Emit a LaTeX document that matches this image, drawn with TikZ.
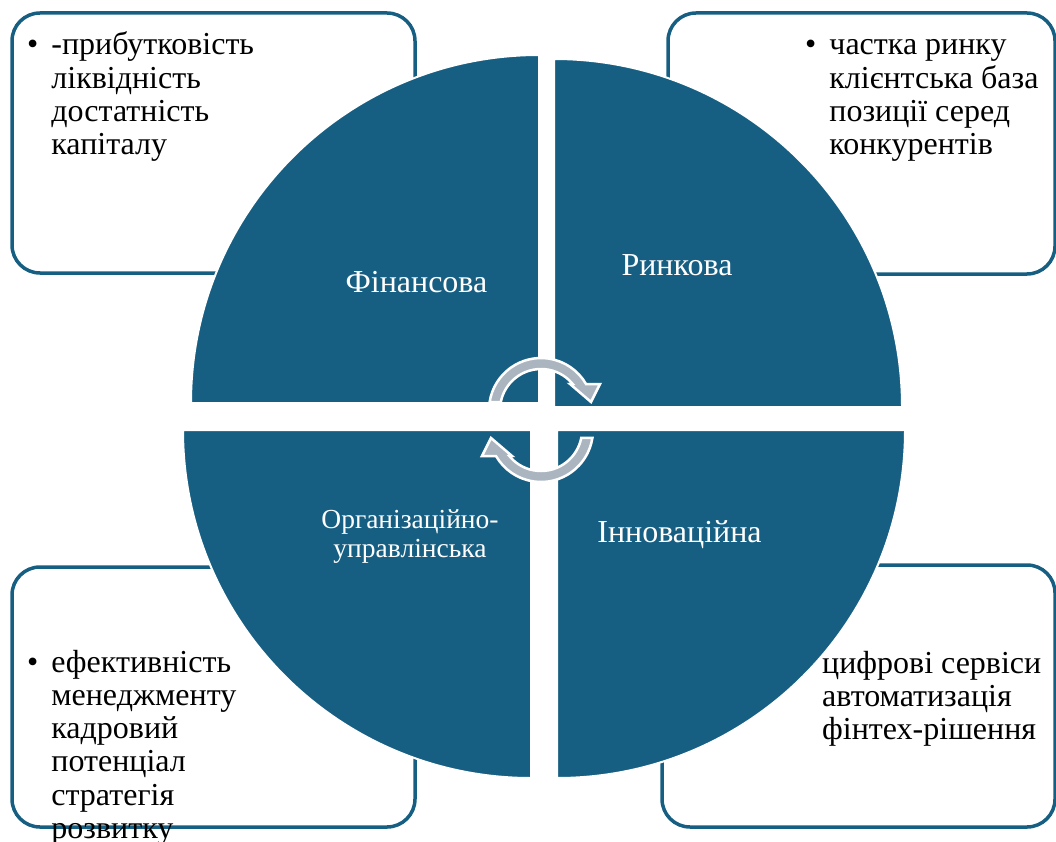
\documentclass[tikz,border=0pt]{standalone}
\usepackage{fontspec}
\setmainfont{Liberation Serif}
\definecolor{segblue}{RGB}{23,95,130}
\definecolor{cyclegray}{RGB}{171,181,191}

\begin{document}
\begin{tikzpicture}[x=1pt,y=1pt,
  seg/.style={fill=segblue,draw=white,line width=2pt},
  frame/.style={draw=segblue,line width=3.5pt,rounded corners=28pt},
  lab/.style={text=white,inner sep=0pt,font=\fontsize{32}{33}\selectfont},
  list/.style={inner sep=0pt,anchor=base west,font=\fontsize{32}{33.3}\selectfont},
  cyc/.style={fill=cyclegray,draw=white,line width=2.5pt,line join=miter}]
\useasboundingbox (0,0) rectangle (1056,-842);
\foreach \a/\b/\c/\d in {12/-13/415/-273, 668/-13/1055/-274, 12/-567/415/-827, 662/-565/1055/-827} { \draw[frame] (\a,\b) rectangle (\c,\d); }
\foreach \x/\y/\s in {539/-403/90, 554/-407/0, 531/-430/180, 557/-430/270} { \filldraw[seg] (\x,\y) -- ++(\s:348) arc[start angle=\s,delta angle=90,radius=348] -- cycle; }
\foreach \r in {0,180} { \filldraw[cyc,rotate around={\r:(541,-420)},shift={(541,-410)}] (171.2:52) arc[start angle=171.2,end angle=30,radius=52] -- (59,26) -- (50,8) -- (29,26) -- (39.4:41) arc[start angle=39.4,end angle=168.8,radius=41] -- cycle; }
\node[lab,anchor=base] (fin) at (416.5,-292) {Фінансова};
\node[lab,anchor=base] (rynk) at (677,-275) {Ринкова};
\node[lab,anchor=base] (inn) at (679.5,-542) {Інноваційна};
\node[lab,anchor=north,align=center,font=\fontsize{27.5}{29}\selectfont] (org) at (410,-509) {Організаційно-\\управлінська};
\node[list] (finlist) at (27,-55) {\begin{tabular}[t]{@{}l@{\hspace{13pt}}l@{}}\textbullet & -прибутковість\\ & ліквідність\\ & достатність\\ & капіталу\end{tabular}};
\node[list] (rynklist) at (805,-55) {\begin{tabular}[t]{@{}l@{\hspace{13pt}}l@{}}\textbullet & частка ринку\\ & клієнтська база\\ & позиції серед\\ & конкурентів\end{tabular}};
\node[list] (orglist) at (27,-672) {\begin{tabular}[t]{@{}l@{\hspace{13pt}}l@{}}\textbullet & ефективність\\ & менеджменту\\ & кадровий\\ & потенціал\\ & стратегія\\ & розвитку\end{tabular}};
\node[list] (innlist) at (822,-673) {\begin{tabular}[t]{@{}l@{}}цифрові сервіси\\ автоматизація\\ фінтех-рішення\end{tabular}};
\end{tikzpicture}
\end{document}
